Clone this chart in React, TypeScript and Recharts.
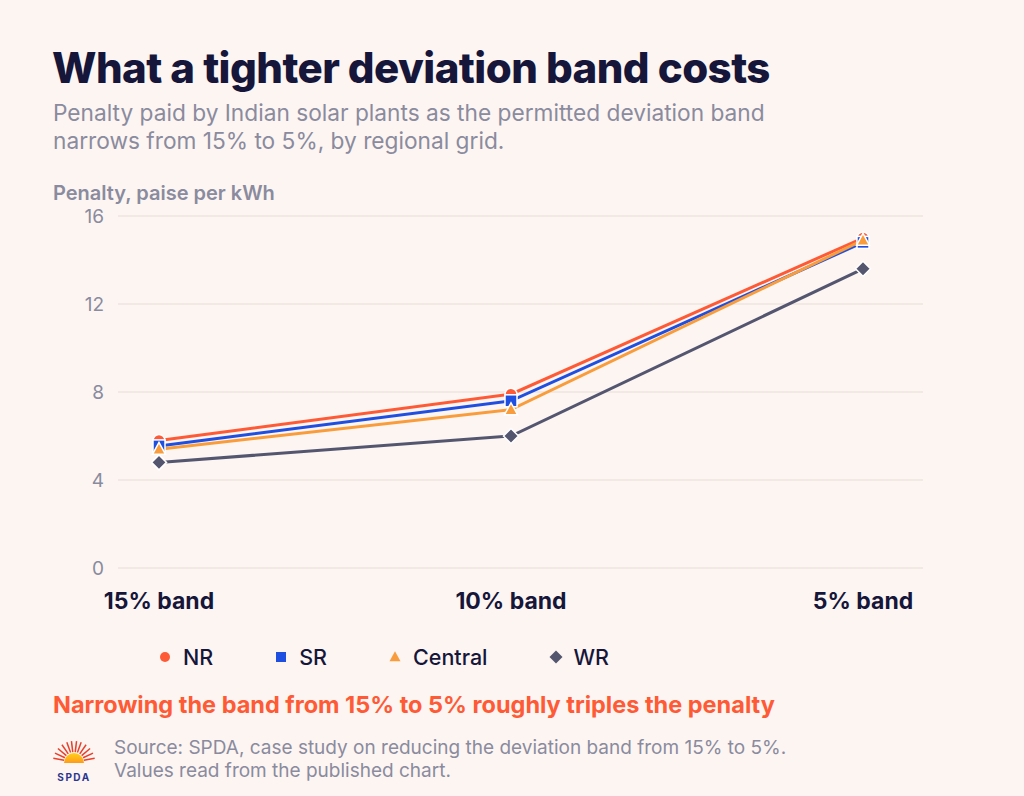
import React from "react";
import { LineChart, Line, XAxis, YAxis, CartesianGrid } from "recharts";

const categories = ["15% band", "10% band", "5% band"];
const nrValues = [5.8, 7.9, 15.0];
const srValues = [5.55, 7.6, 14.8];
const centralValues = [5.4, 7.2, 14.9];
const wrValues = [4.8, 6.0, 13.6];
const yTicks = [0, 4, 8, 12, 16];

const seriesNames = ["NR", "SR", "Central", "WR"];
const seriesKeys = ["nr", "sr", "central", "wr"];
const seriesColors = ["#FF5A36", "#1F4FE0", "#F99D3C", "#545670"];
const seriesShapes = ["circle", "square", "triangle", "diamond"];

const data = categories.map((c, i) => ({
  band: c,
  nr: nrValues[i],
  sr: srValues[i],
  central: centralValues[i],
  wr: wrValues[i],
}));

const BG = "#FDF5F2";
const FONT = "Inter, 'Noto Sans', sans-serif";

function shapeEl(shape: string, cx: number, cy: number, s: number, fill: string, stroke?: string, sw?: number) {
  const common = { fill, stroke: stroke || "none", strokeWidth: sw || 0 };
  if (shape === "circle") return <circle cx={cx} cy={cy} r={s / 2} {...common} />;
  if (shape === "square") return <rect x={cx - s / 2} y={cy - s / 2} width={s} height={s} {...common} />;
  if (shape === "triangle") {
    const h = s * 0.95;
    return (
      <path
        d={`M${cx},${cy - h * 0.6} L${cx + s / 2 + 0.5},${cy + h * 0.45} L${cx - s / 2 - 0.5},${cy + h * 0.45} Z`}
        {...common}
      />
    );
  }
  const r = s / 2 + 1.5;
  return <path d={`M${cx},${cy - r} L${cx + r},${cy} L${cx},${cy + r} L${cx - r},${cy} Z`} {...common} />;
}

const makeDot = (shape: string, color: string) => (props: any) => {
  const { cx, cy, index } = props;
  if (cx == null || cy == null) return <g key={index} />;
  return <g key={`${shape}-${index}`}>{shapeEl(shape, cx, cy, 12, color, "#FFFFFF", 1.5)}</g>;
};

export default function App() {
  return (
    <div
      style={{
        position: "absolute",
        left: 0,
        top: 0,
        width: 1024,
        height: 796,
        background: BG,
        fontFamily: FONT,
        overflow: "hidden",
      }}
    >
      <div
        style={{
          position: "absolute",
          left: 52,
          top: 43,
          fontSize: 42,
          lineHeight: "50px",
          fontWeight: 800,
          color: "#16163A",
          letterSpacing: "-0.55px",
          whiteSpace: "nowrap",
        }}
      >
        What a tighter deviation band costs
      </div>
      <div
        style={{
          position: "absolute",
          left: 53,
          top: 98.5,
          fontSize: 22.7,
          lineHeight: "28px",
          fontWeight: 400,
          color: "#8A8B9E",
          whiteSpace: "nowrap",
        }}
      >
        Penalty paid by Indian solar plants as the permitted deviation band
        <br />
        narrows from 15% to 5%, by regional grid.
      </div>
      <div
        style={{
          position: "absolute",
          left: 53,
          top: 184,
          fontSize: 20,
          lineHeight: "18px",
          fontWeight: 600,
          color: "#8A8B9E",
          whiteSpace: "nowrap",
        }}
      >
        Penalty, paise per kWh
      </div>

      <div style={{ position: "absolute", left: 0, top: 0 }}>
        <LineChart
          width={1024}
          height={640}
          data={data}
          margin={{ top: 216, right: 101, left: 58, bottom: 32 }}
        >
          <CartesianGrid vertical={false} stroke="#EEE4E0" strokeWidth={1.5} />
          <XAxis
            dataKey="band"
            axisLine={false}
            tickLine={false}
            padding={{ left: 41, right: 60 }}
            height={40}
            tickMargin={19}
            tick={{ fontSize: 23, fontWeight: 700, fill: "#16163A", fontFamily: FONT }}
            interval={0}
          />
          <YAxis
            domain={[0, 16]}
            ticks={yTicks}
            axisLine={false}
            tickLine={false}
            width={60}
            tickMargin={8}
            tick={{ fontSize: 19, fill: "#8A8B9E", fontFamily: FONT }}
          />
          {seriesKeys.map((k, i) => (
            <Line
              key={k}
              type="linear"
              dataKey={k}
              name={seriesNames[i]}
              stroke={seriesColors[i]}
              strokeWidth={3}
              dot={makeDot(seriesShapes[i], seriesColors[i])}
              activeDot={false}
              isAnimationActive={false}
            />
          ))}
        </LineChart>
      </div>

      <div
        style={{
          position: "absolute",
          left: 160,
          top: 645,
          display: "flex",
          alignItems: "center",
          gap: 63,
          fontSize: 21.5,
          lineHeight: "24px",
          fontWeight: 500,
          color: "#16163A",
        }}
      >
        {seriesNames.map((n, i) => (
          <div key={n} style={{ display: "flex", alignItems: "center" }}>
            <svg width={10} height={12} style={{ marginRight: 13, overflow: "visible" }}>
              {shapeEl(seriesShapes[i], 5, 6, 10, seriesColors[i])}
            </svg>
            <span>{n}</span>
          </div>
        ))}
      </div>

      <div
        style={{
          position: "absolute",
          left: 53,
          top: 691,
          fontSize: 23.5,
          lineHeight: "28px",
          fontWeight: 700,
          color: "#FF5A36",
          whiteSpace: "nowrap",
        }}
      >
        Narrowing the band from 15% to 5% roughly triples the penalty
      </div>

      <svg width={48} height={52} style={{ position: "absolute", left: 50, top: 738 }}>
        <defs>
          <linearGradient id="sun" x1="0" y1="0" x2="0" y2="1">
            <stop offset="0%" stopColor="#FFD21A" />
            <stop offset="100%" stopColor="#FF9A1A" />
          </linearGradient>
        </defs>
        {[-80, -65, -50, -35, -20, -7, 7, 20, 35, 50, 65, 80].map((a) => {
          const rad = ((a - 90) * Math.PI) / 180;
          const x1 = 24 + Math.cos(rad) * 10;
          const y1 = 24 + Math.sin(rad) * 10;
          const x2 = 24 + Math.cos(rad) * 21;
          const y2 = 24 + Math.sin(rad) * 21;
          return <line key={a} x1={x1} y1={y1} x2={x2} y2={y2} stroke="#E8402A" strokeWidth={1.5} />;
        })}
        <path d="M14,25 A10,10 0 0 1 34,25 Z" fill="url(#sun)" />
        <text
          x={24}
          y={43}
          textAnchor="middle"
          fontSize={10}
          fontWeight={700}
          fill="#2B3590"
          letterSpacing="1.5"
          fontFamily={FONT}
        >
          SPDA
        </text>
      </svg>

      <div
        style={{
          position: "absolute",
          left: 114,
          top: 736,
          fontSize: 19,
          lineHeight: "23px",
          fontWeight: 400,
          color: "#8A8B9E",
          whiteSpace: "nowrap",
        }}
      >
        Source: SPDA, case study on reducing the deviation band from 15% to 5%.
        <br />
        Values read from the published chart.
      </div>
    </div>
  );
}
